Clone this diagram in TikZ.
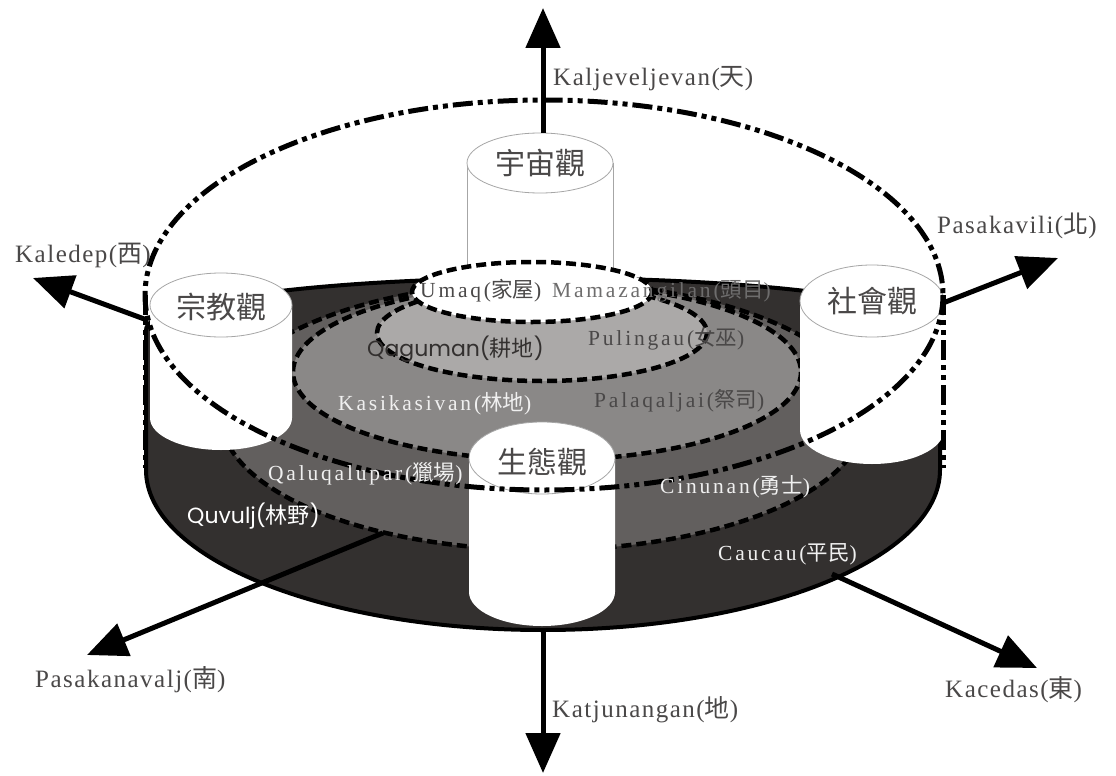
\documentclass[tikz,border=0pt]{standalone}
\usepackage{fontspec}
\setmainfont{Liberation Serif}
\newfontfamily\cjk{Noto Sans CJK TC}
\newfontfamily\arrfont[LetterSpace=6]{Liberation Serif}
\newfontfamily\ringfont[LetterSpace=13]{Liberation Serif}
\newfontfamily\geo{Poppins}
\usetikzlibrary{arrows.meta}
\definecolor{diskc}{HTML}{33302F}
\definecolor{ringb}{HTML}{625F5E}
\definecolor{ringc}{HTML}{8A8887}
\definecolor{ringd}{HTML}{ABA9A8}
\definecolor{txtd}{HTML}{4A4848}
\definecolor{txtl}{HTML}{F0F0F0}
\newcommand\arrlbl[2]{{\fontsize{25}{25}\selectfont\arrfont #1(\cjk #2\arrfont )}}
\newcommand\rnglbl[2]{{\fontsize{21.5}{21.5}\selectfont\ringfont #1(\cjk #2\ringfont )}}
\newcommand\geolbl[2]{{\fontsize{22}{22}\selectfont\geo #1(\cjk #2\geo )}}
\tikzset{
  ringline/.style={draw=black, line width=4.5pt, dash pattern=on 10pt off 5pt},
  bigline/.style={draw=black, line width=5pt, dash pattern=on 20pt off 5pt on 5pt off 5pt on 5pt off 5pt},
  cylthin/.style={draw=gray!70, line width=0.8pt},
  arrowline/.style={draw=black, line width=5pt, -{Triangle[length=40pt,width=34pt]}},
  collabel/.style={text=txtd, font=\fontsize{30}{30}\selectfont\cjk, inner sep=0pt},
  lbl/.style={anchor=base west, inner sep=0pt}
}
\begin{document}
\begin{tikzpicture}[x=1pt,y=-1pt]
\useasboundingbox (0,0) rectangle (1116,776);
\fill[white] (0,0) rectangle (1116,776);

% column of the cosmos (behind the disk)
\fill[white] (467,163) rectangle (613,300);
\draw[cylthin] (467,163) -- (467,300) (613,163) -- (613,300);

% dark base disk
\path[fill=diskc, draw=black, line width=4pt]
  (146,330) arc[start angle=180, end angle=360, x radius=397, y radius=52]
  -- (940,470) arc[start angle=0, end angle=180, x radius=397, y radius=160] -- cycle;

% rings
\path[fill=ringb, ringline] (543,416) ellipse [x radius=322, y radius=134];
\path[fill=ringc, ringline] (547,372) ellipse [x radius=254, y radius=88];
\path[fill=ringd, ringline] (542,333) ellipse [x radius=165, y radius=48];
\path[fill=white, ringline] (532,292) ellipse [x radius=120, y radius=30];

% white columns
\fill[white] (150,305) -- (150,418) arc[start angle=180, end angle=0, x radius=71, y radius=32] -- (292,305) -- cycle;
\fill[white] (800,301) -- (800,430) arc[start angle=180, end angle=0, x radius=72, y radius=34] -- (944,301) -- cycle;
\fill[white] (469,458) -- (469,592) arc[start angle=180, end angle=0, x radius=73, y radius=34] -- (615,458) -- cycle;

\path[fill=white, cylthin] (540,163) ellipse [x radius=73, y radius=30];
\path[fill=white, cylthin] (221,305) ellipse [x radius=71, y radius=32];
\path[fill=white, cylthin] (872,301) ellipse [x radius=72, y radius=36];
\path[fill=white, cylthin] (542,458) ellipse [x radius=73, y radius=36];

% outer dash-dot cylinder
\path[bigline] (544,295) ellipse [x radius=399, y radius=195];
\path[bigline] (145,295) -- (145,468) (943,295) -- (943,468);

% column labels
\node[collabel] (cosmos) at (540,163) {宇宙觀};
\node[collabel] (religion) at (221,307) {宗教觀};
\node[collabel] (society) at (872,301) {社會觀};
\node[collabel] (ecology) at (542,462) {生態觀};

% ring labels
\node[lbl, text=txtd] (umaq) at (420,297) {\rnglbl{Umaq}{家屋}};
\node[lbl, text=txtd!80] (mama) at (552,297) {\rnglbl{Mamazangilan}{頭目}};
\node[lbl, text=diskc] (qaguman) at (367,356) {\geolbl{Qaguman}{耕地}};
\node[lbl, text=txtd] (puling) at (588,345) {\rnglbl{Pulingau}{女巫}};
\node[lbl, text=txtl] (kasik) at (338,410) {\rnglbl{Kasikasivan}{林地}};
\node[lbl, text=txtd] (palaq) at (594,407) {\rnglbl{Palaqaljai}{祭司}};
\node[lbl, text=txtl] (qaluq) at (268,480) {\rnglbl{Qaluqalupar}{獵場}};
\node[lbl, text=txtl] (cinun) at (660,493) {\rnglbl{Cinunan}{勇士}};
\node[lbl, text=white] (quvulj) at (187,523) {\geolbl{Quvulj}{林野}};
\node[lbl, text=txtl] (caucau) at (718,560) {\rnglbl{Caucau}{平民}};

% direction arrows
\coordinate (upS) at (543,133);
\coordinate (upT) at (543,8);
\coordinate (dnS) at (543,630);
\coordinate (dnT) at (543,773);
\coordinate (wS) at (147,320);
\coordinate (wT) at (33,278);
\coordinate (nS) at (943,303);
\coordinate (nT) at (1058,258);
\coordinate (sS) at (383,533);
\coordinate (sT) at (87,655);
\coordinate (eS) at (832,574);
\coordinate (eT) at (1037,668);
\draw[arrowline] (upS) -- (upT);
\draw[arrowline] (dnS) -- (dnT);
\draw[arrowline] (wS) -- (wT);
\draw[arrowline] (nS) -- (nT);
\draw[arrowline] (sS) -- (sT);
\draw[arrowline] (eS) -- (eT);

% direction labels
\node[lbl, text=txtd] (sky) at (553,85) {\arrlbl{Kaljeveljevan}{天}};
\node[lbl, text=txtd] (north) at (937,233) {\arrlbl{Pasakavili}{北}};
\node[lbl, text=txtd] (west) at (15,262) {\arrlbl{Kaledep}{西}};
\node[lbl, text=txtd] (south) at (35,687) {\arrlbl{Pasakanavalj}{南}};
\node[lbl, text=txtd] (earth) at (552,717) {\arrlbl{Katjunangan}{地}};
\node[lbl, text=txtd] (east) at (945,697) {\arrlbl{Kacedas}{東}};
\end{tikzpicture}
\end{document}
